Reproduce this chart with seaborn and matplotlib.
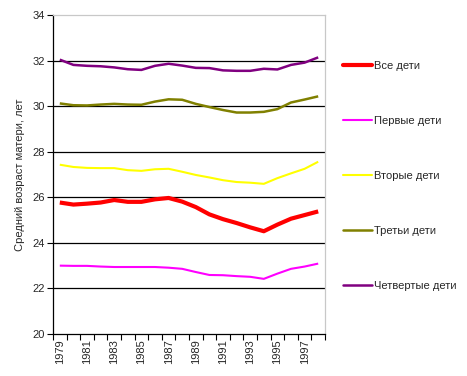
import matplotlib
matplotlib.use("Agg")
import matplotlib.pyplot as plt
from matplotlib.lines import Line2D
import seaborn as sns
import pandas as pd
import numpy as np

years = list(range(1979, 1999))
series_names = ["Все дети", "Первые дети", "Вторые дети", "Третьи дети", "Четвертые дети"]
all_children = [25.77, 25.68, 25.72, 25.77, 25.88, 25.80, 25.80, 25.91, 25.97, 25.81,
                25.57, 25.25, 25.04, 24.87, 24.68, 24.51, 24.80, 25.06, 25.22, 25.38]
first_children = [23.00, 22.99, 22.99, 22.96, 22.94, 22.94, 22.94, 22.94, 22.91, 22.86,
                  22.72, 22.59, 22.58, 22.54, 22.51, 22.42, 22.65, 22.86, 22.96, 23.09]
second_children = [27.43, 27.33, 27.29, 27.28, 27.28, 27.19, 27.16, 27.23, 27.25, 27.12,
                   26.98, 26.87, 26.75, 26.67, 26.64, 26.59, 26.84, 27.05, 27.25, 27.56]
third_children = [30.12, 30.04, 30.03, 30.07, 30.10, 30.07, 30.06, 30.20, 30.30, 30.28,
                  30.10, 29.96, 29.83, 29.72, 29.72, 29.75, 29.87, 30.16, 30.29, 30.43]
fourth_children = [32.04, 31.81, 31.77, 31.75, 31.70, 31.62, 31.59, 31.77, 31.86, 31.78,
                   31.68, 31.67, 31.57, 31.55, 31.55, 31.64, 31.61, 31.81, 31.91, 32.14]
colors = ["#FF0000", "#FF00FF", "#FFFF00", "#808000", "#800080"]
widths = [3.0, 1.5, 1.5, 1.8, 1.8]
y_ticks = [20, 22, 24, 26, 28, 30, 32, 34]

sns.set_theme(style="white")
plt.rcParams['font.family'] = ['Liberation Sans', 'DejaVu Sans']
FS = 8

values = [all_children, first_children, second_children, third_children, fourth_children]
df = pd.DataFrame({
    "year": years * len(series_names),
    "age": sum(values, []),
    "series": [s for s in series_names for _ in years],
})

fig = plt.figure(figsize=(4.67, 3.76), dpi=100)
ax = fig.add_axes([53/467, 1 - 334/376, 272/467, 319/376])

for name, c, w in zip(series_names, colors, widths):
    sns.lineplot(data=df[df.series == name], x="year", y="age", color=c, lw=w,
                 ax=ax, legend=False, solid_capstyle="butt")

ax.set_xlim(1978.5, 1998.5)
ax.set_ylim(20, 34)
ax.set_yticks(y_ticks)
ax.set_yticklabels([str(v) for v in y_ticks], fontsize=FS)
for v in y_ticks[1:-1]:
    ax.axhline(v, color="black", lw=0.9, zorder=0)

ax.set_xticks(years[::2])
ax.set_xticklabels([str(y) for y in years[::2]], rotation=90, fontsize=FS)
ax.set_xticks(np.arange(1978.5, 1999, 1.0), minor=True)
ax.tick_params(axis="x", which="major", length=0, pad=4)
ax.tick_params(axis="x", which="minor", length=4, width=0.8, color="black", direction="out", bottom=True)
ax.tick_params(axis="y", length=4, width=0.8, color="black", direction="out", left=True, pad=2)

for s in ["left", "bottom"]:
    ax.spines[s].set_color("black")
    ax.spines[s].set_linewidth(0.9)
for s in ["top", "right"]:
    ax.spines[s].set_color("#C8C8C8")
    ax.spines[s].set_linewidth(0.9)

ax.set_xlabel("")
ax.set_ylabel("Средний возраст матери, лет", fontsize=FS, labelpad=5)

handles = [Line2D([0], [0], color=c, lw=w) for c, w in zip(colors, widths)]
leg = fig.legend(handles, series_names, loc="upper left", bbox_to_anchor=(343/467, 1 - 61/376),
                 frameon=False, fontsize=FS, labelspacing=4.05, handlelength=2.6,
                 handletextpad=0.15, borderpad=0, borderaxespad=0)

fig.savefig("out.png", dpi=100, facecolor="white")
